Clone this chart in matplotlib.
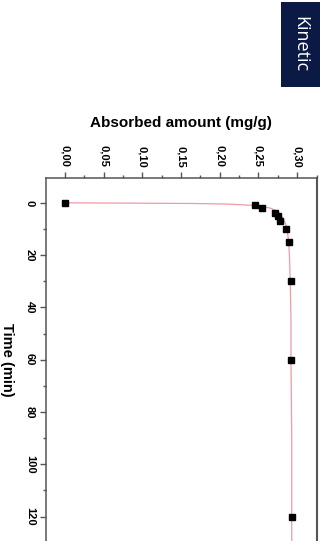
import matplotlib
matplotlib.use("Agg")
import matplotlib.pyplot as plt
from matplotlib.patches import Rectangle
from matplotlib.ticker import MultipleLocator, FuncFormatter

# adsorption kinetics: measured points and fitted curve
time_min = [0, 1, 2, 4, 5, 7, 10, 15, 30, 60, 120]
absorbed = [0.0, 0.246, 0.254, 0.272, 0.275, 0.278, 0.285, 0.290, 0.292, 0.292, 0.293]

fit_time = [0, 0.25, 0.5, 1, 2, 3, 4, 6, 8, 10, 15, 20, 30, 45, 60, 90, 120, 140]
fit_absorbed = [0.0, 0.165, 0.212, 0.245, 0.265, 0.273, 0.277, 0.282, 0.285, 0.287,
                0.289, 0.290, 0.291, 0.292, 0.292, 0.293, 0.293, 0.293]

x_ticks = [0.00, 0.05, 0.10, 0.15, 0.20, 0.25, 0.30]
y_ticks = [0, 20, 40, 60, 80, 100, 120]

plt.rcParams['font.family'] = ['Liberation Sans', 'DejaVu Sans']

fig = plt.figure(figsize=(3.24, 5.41), dpi=100)
ax = fig.add_axes([0.142, -0.0272, 0.8373, 0.6987])

ax.plot(fit_absorbed, fit_time, color='#f09aa3', lw=0.9, zorder=2)
ax.plot(absorbed, time_min, 's', color='black', markersize=4.0, zorder=3)

ax.set_xlim(-0.0245, 0.326)
ax.set_ylim(135, -9.6)

ax.xaxis.tick_top()
ax.set_xticks(x_ticks)
ax.xaxis.set_minor_locator(MultipleLocator(0.025))
ax.xaxis.set_major_formatter(FuncFormatter(lambda v, p: f"{v:.2f}".replace('.', ',')))
ax.set_yticks(y_ticks)
ax.yaxis.set_minor_locator(MultipleLocator(10))

spine_col = '#555555'
for side in ['top', 'left', 'right']:
    ax.spines[side].set_color(spine_col)
    ax.spines[side].set_linewidth(1.1)
ax.spines['right'].set_linewidth(1.5)
ax.spines['bottom'].set_visible(False)

ax.tick_params(axis='both', which='both', direction='out', color=spine_col, width=1.0)
ax.tick_params(axis='both', which='major', length=4.5)
ax.tick_params(axis='both', which='minor', length=2.5)
ax.tick_params(axis='x', which='major', pad=3, labelsize=8, labelrotation=-90)
ax.tick_params(axis='y', which='major', pad=3.5, labelsize=8, labelrotation=-90)
for lbl in ax.get_xticklabels() + ax.get_yticklabels():
    lbl.set_fontweight('bold')
for lbl in ax.get_xticklabels():
    lbl.set_va('bottom')
for lbl in ax.get_yticklabels():
    lbl.set_va('center')

fig.text(0.5586, 0.7735, 'Absorbed amount (mg/g)', ha='center', va='center',
         fontsize=11, fontweight='bold')
fig.text(0.0231, 0.3346, 'Time (min)', ha='center', va='center',
         fontsize=10.5, fontweight='bold', rotation=-90)

# section tag in the corner
fig.patches.append(Rectangle((0.867, 0.839), 0.120, 0.157, transform=fig.transFigure,
                             facecolor='#0b1a45', edgecolor='none'))
fig.text(0.927, 0.919, 'Kinetic', ha='center', va='center', color='white',
         fontsize=13, rotation=-90, family=['Open Sans', 'DejaVu Sans'])

fig.savefig('out.png', dpi=100)
